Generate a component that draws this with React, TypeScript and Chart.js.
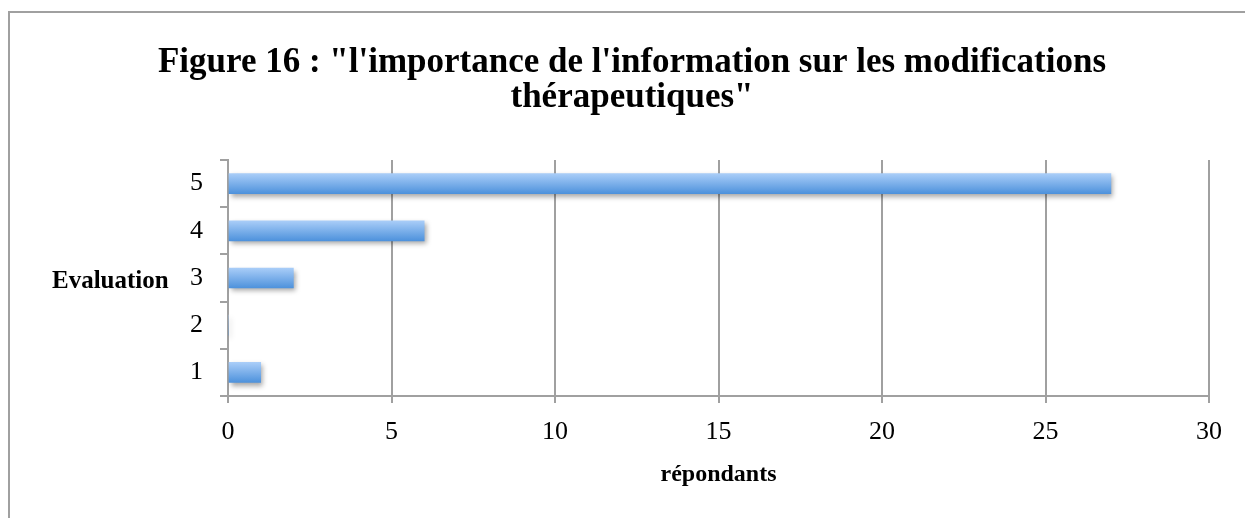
import React, { useEffect, useRef } from "react";
import { Chart, registerables } from "chart.js";

Chart.register(...registerables);

const categories = ["5", "4", "3", "2", "1"];
const respondents = [27, 6, 2, 0, 1];
const titleLines = ["Figure 16 : \"l'importance de l'information sur les modifications", "thérapeutiques\""];
const yTitle = "Evaluation";
const xTitle = "répondants";

const FONT = "'Liberation Serif', 'Times New Roman', serif";
const GREY = "#a0a0a0";

export default function App() {
  const ref = useRef<HTMLCanvasElement>(null);
  useEffect(() => {
    const canvas = ref.current!;
    const shadowPlugin = {
      id: "barShadow",
      beforeDatasetsDraw(chart: any) {
        const ctx = chart.ctx;
        ctx.save();
        ctx.shadowColor = "rgba(0,0,0,0.35)";
        ctx.shadowBlur = 5;
        ctx.shadowOffsetX = 2;
        ctx.shadowOffsetY = 3;
      },
      afterDatasetsDraw(chart: any) {
        chart.ctx.restore();
      },
    };
    const yTitlePlugin = {
      id: "yTitleH",
      afterDraw(chart: any) {
        const ctx = chart.ctx;
        const y = chart.scales.y;
        const mid = y.getPixelForValue(2);
        ctx.save();
        ctx.font = `bold 25px ${FONT}`;
        ctx.fillStyle = "#000";
        ctx.textAlign = "left";
        ctx.textBaseline = "middle";
        ctx.fillText(yTitle, 52, mid + 4);
        ctx.restore();
      },
    };
    const chart = new Chart(canvas, {
      type: "bar",
      data: {
        labels: categories,
        datasets: [
          {
            data: respondents,
            barThickness: 20,
            borderWidth: 0,
            backgroundColor: (c: any) => {
              const ch = c.chart;
              const ys = ch.scales && ch.scales.y;
              if (!ys || c.dataIndex === undefined) return "#6aa6ea";
              const center = ys.getPixelForValue(c.dataIndex);
              if (!Number.isFinite(center)) return "#6aa6ea";
              const g = ch.ctx.createLinearGradient(0, center - 10, 0, center + 10);
              g.addColorStop(0, "#a9cdf8");
              g.addColorStop(1, "#4e92dc");
              return g;
            },
          },
        ],
      },
      options: {
        indexAxis: "y",
        responsive: false,
        animation: false,
        devicePixelRatio: 1,
        layout: { padding: { left: 55, right: 36, top: 0, bottom: 0 } },
        plugins: {
          legend: { display: false },
          tooltip: { enabled: false },
          title: {
            display: true,
            text: titleLines,
            color: "#000",
            font: { family: FONT, size: 35, weight: "bold", lineHeight: 1.0 },
            padding: { top: 45, bottom: 45 },
          },
        },
        scales: {
          x: {
            min: 0,
            max: 30,
            ticks: { stepSize: 5, color: "#000", font: { family: FONT, size: 26 }, padding: 14 },
            grid: { color: GREY, lineWidth: 2, tickLength: 7, tickColor: GREY },
            border: { display: true, color: GREY, width: 2 },
            title: {
              display: true,
              text: xTitle,
              color: "#000",
              font: { family: FONT, size: 24, weight: "bold" },
              padding: { top: 0, bottom: 29 },
            },
            afterFit: (s: any) => {
              s.height = 122;
            },
          },
          y: {
            ticks: { color: "#000", font: { family: FONT, size: 26 }, padding: 17 },
            grid: { drawOnChartArea: false, color: GREY, lineWidth: 2, tickLength: 8, tickColor: GREY },
            border: { display: true, color: GREY, width: 2 },
            afterFit: (s: any) => {
              s.width = 173;
            },
          },
        },
      },
      plugins: [shadowPlugin, yTitlePlugin],
    } as any);
    return () => chart.destroy();
  }, []);
  return (
    <div>
      <div
        style={{
          position: "fixed",
          left: 8,
          top: 11,
          width: 1300,
          height: 600,
          border: `2px solid ${GREY}`,
          boxSizing: "border-box",
        }}
      />
      <canvas
        ref={ref}
        width={1245}
        height={518}
        style={{ position: "fixed", left: 0, top: 0, width: 1245, height: 518 }}
      />
    </div>
  );
}
